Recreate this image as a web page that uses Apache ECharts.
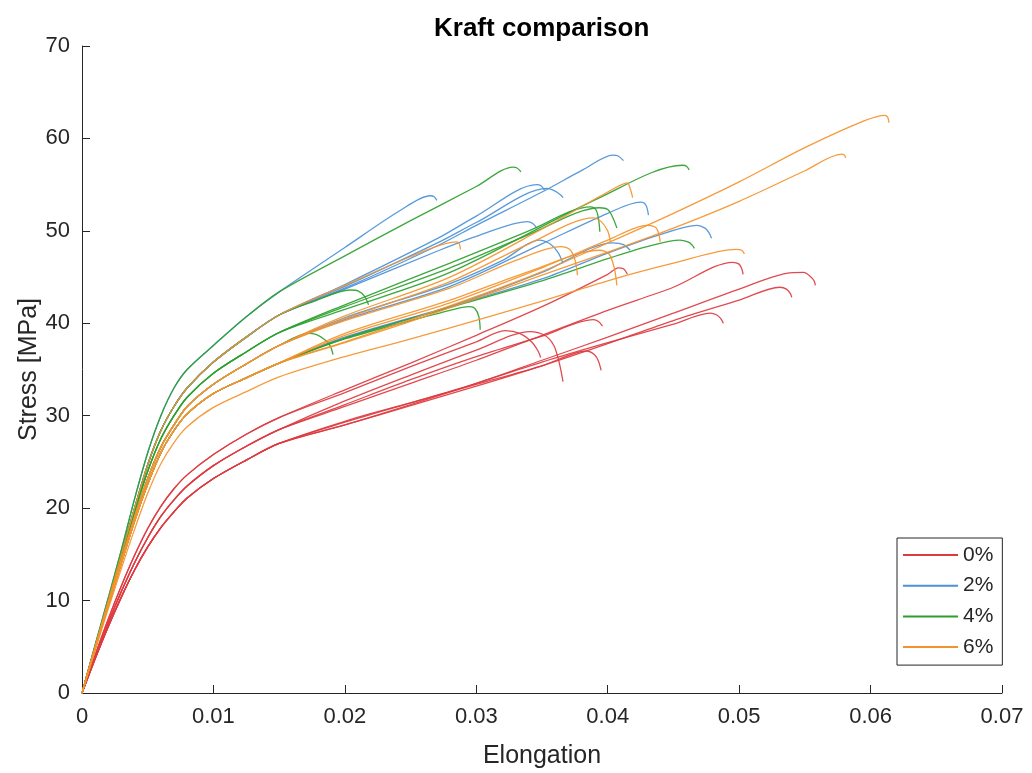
<!DOCTYPE html>
<html>
<head>
<meta charset="utf-8">
<title>Kraft comparison</title>
<script src="https://cdn.jsdelivr.net/npm/echarts@6/dist/echarts.min.js"></script>
<style>
  html, body { margin: 0; padding: 0; background: #fff; }
  #chart { width: 1032px; height: 773px; }
</style>
</head>
<body>
<div id="chart"></div>
<script>
// strain points of the initial (knee) part, shared by all curves
const kneeStrain = [0, 0.001, 0.002, 0.003, 0.004, 0.005, 0.006, 0.007, 0.008, 0.01, 0.0125, 0.015];

// knee stress, one row per bundle of curves
const kneeRedHigh = [0, 4.1, 8, 11.6, 14.9, 17.8, 20.2, 22.1, 23.6, 25.8, 28, 29.8];
const kneeRedMid = [0, 3.9, 7.6, 11, 14.1, 16.8, 19.1, 20.9, 22.4, 24.6, 26.7, 28.5];
const kneeRedLow = [0, 3.7, 7.2, 10.4, 13.3, 15.8, 17.9, 19.6, 21.1, 23.2, 25.2, 27];
const kneeTop = [0, 5.2, 10.3, 15.5, 21, 26, 30, 33, 35, 37.6, 40.7, 43.4];
const kneeUpper = [0, 5, 10, 15, 20, 24.7, 28.4, 31, 33, 35.8, 38.5, 40.9];
const kneeGreen = [0, 5, 9.9, 14.8, 19.6, 24, 27.5, 30, 32, 34.6, 36.9, 39];
const kneeOrange = [0, 4.9, 9.7, 14.4, 19, 23.2, 26.6, 29, 31, 33.4, 35.6, 37.6];
const kneeLower = [0, 4.8, 9.5, 14.1, 18.6, 22.6, 26, 28.4, 30.2, 32.4, 34.1, 35.7];
const kneeLowest = [0, 4.6, 9.1, 13.5, 17.7, 21.6, 24.8, 27.1, 28.8, 30.9, 32.6, 34.2];

// 0 % : tails [strain, stress] after the knee, up to failure
const red = [
  [kneeRedHigh, [[0.02,32.5],[0.025,35.3],[0.03,38],[0.0322,39.2],[0.0333,38.9],[0.0342,38],[0.0347,37],[0.0349,36.3]]],
  [kneeRedMid, [[0.02,31.6],[0.025,34.4],[0.03,37.1],[0.0341,39.1],[0.0352,38.7],[0.0359,37.6],[0.0363,35.8],[0.0366,33.7]]],
  [kneeRedLow, [[0.02,29.4],[0.025,31.4],[0.03,33.4],[0.035,35.4],[0.0384,37],[0.039,36.6],[0.0393,35.9],[0.0395,34.9]]],
  [kneeRedMid, [[0.02,31.2],[0.025,33.9],[0.03,36.4],[0.035,38.6],[0.0389,40.4],[0.0393,40.2],[0.0396,39.7]]],
  [kneeRedHigh, [[0.02,32.8],[0.025,35.7],[0.03,38.7],[0.035,41.8],[0.04,45.3],[0.0408,46],[0.0412,45.9],[0.0415,45.3]]],
  [kneeRedMid, [[0.02,31],[0.025,33.5],[0.03,36],[0.035,38.7],[0.04,41.4],[0.045,43.9],[0.0495,46.6],[0.05,46.4],[0.0502,45.9],[0.0503,45.3]]],
  [kneeRedLow, [[0.02,29.3],[0.025,31.4],[0.03,33.5],[0.035,36],[0.04,38.5],[0.045,41.1],[0.05,43.7],[0.0536,45.4],[0.0549,45.5],[0.0554,45.1],[0.0557,44.6],[0.0558,44.1]]],
  [kneeRedLow, [[0.02,29],[0.025,31.1],[0.03,33.2],[0.035,35.4],[0.04,37.8],[0.045,40.3],[0.05,42.5],[0.0531,43.9],[0.0536,43.7],[0.0539,43.2],[0.054,42.8]]],
  [kneeRedLow, [[0.02,29],[0.025,31.2],[0.03,33.5],[0.035,35.8],[0.04,37.9],[0.045,39.9],[0.0478,41.1],[0.0483,40.9],[0.0486,40.5],[0.0488,40]]]
];

// 2 %
const blue = [
  [kneeTop, [[0.02,48.2],[0.0242,52.2],[0.0265,53.8],[0.0268,53.7],[0.027,53.3]]],
  [kneeUpper, [[0.02,44.2],[0.0272,49.3],[0.03,51.6],[0.0346,55],[0.0349,54.9],[0.0352,54.4]]],
  [kneeUpper, [[0.02,44],[0.0272,48.8],[0.03,50.9],[0.0354,54.6],[0.036,54.3],[0.0364,53.9],[0.0366,53.6]]],
  [kneeUpper, [[0.02,43.7],[0.0272,47.9],[0.03,49.4],[0.0339,51],[0.0343,50.8],[0.0346,50.3]]],
  [kneeOrange, [[0.02,40.6],[0.028,44.3],[0.032,46.8],[0.0348,49],[0.0356,48.6],[0.0362,47.7],[0.0366,46.5]]],
  [kneeUpper, [[0.02,43.8],[0.0272,48.5],[0.03,50.6],[0.035,54.2],[0.0381,56.6],[0.0404,58.2],[0.0408,58.1],[0.0412,57.6]]],
  [kneeOrange, [[0.02,40.4],[0.028,44],[0.035,48.6],[0.04,51.9],[0.0425,53.1],[0.0429,52.8],[0.0431,51.7]]],
  [kneeLower, [[0.02,38.5],[0.028,41.8],[0.035,44.8],[0.04,47.6],[0.044,49.6],[0.0468,50.6],[0.0474,50.3],[0.0477,49.8],[0.0479,49.2]]],
  [kneeLower, [[0.02,38.4],[0.028,41.8],[0.035,45.5],[0.0404,48.7],[0.0412,48.5],[0.0417,47.9]]]
];

// 4 %
const green = [
  [kneeTop, [[0.02,47.3],[0.025,51.1],[0.03,54.8],[0.0328,56.9],[0.0331,56.8],[0.0334,56.4]]],
  [kneeGreen, [[0.02,41.5],[0.028,45.5],[0.0394,53.6],[0.0457,57.1],[0.046,57],[0.0462,56.6]]],
  [kneeGreen, [[0.02,42],[0.028,46.5],[0.034,50],[0.0387,52.6],[0.0391,52.3],[0.0393,51.3],[0.0394,49.9]]],
  [kneeGreen, [[0.02,41.8],[0.028,46],[0.034,49.6],[0.0394,52.5],[0.04,52.3],[0.0404,51.4],[0.0407,50.3]]],
  [kneeLower, [[0.02,38.3],[0.025,40.3],[0.0272,41.1],[0.0295,41.8],[0.0299,41.6],[0.0302,40.7],[0.0303,39.3]]],
  [kneeLower, [[0.02,38.4],[0.0272,41.4],[0.035,44.6],[0.04,47],[0.043,48.3],[0.0455,49],[0.0461,48.8],[0.0464,48.5],[0.0466,48.1]]],
  [kneeUpper, [[0.0175,42.3],[0.0204,43.6],[0.021,43.5],[0.0215,42.9],[0.0218,42]]],
  [kneeOrange, [[0.0172,38.9],[0.0178,38.8],[0.0185,38.2],[0.0189,37.5],[0.0191,36.6]]]
];

// 6 %
const orange = [
  [kneeLower, [[0.02,38],[0.025,40.4],[0.03,42.9],[0.035,45.6],[0.04,48.7],[0.045,51.9],[0.05,55.3],[0.055,59],[0.0595,61.9],[0.0611,62.5],[0.0613,62.3],[0.0614,61.7]]],
  [kneeLower, [[0.02,37.9],[0.025,40.2],[0.03,42.7],[0.035,45.2],[0.04,47.7],[0.045,50.3],[0.05,53.2],[0.055,56.5],[0.0578,58.3],[0.058,58.2],[0.0581,57.9]]],
  [kneeOrange, [[0.02,40.8],[0.028,45],[0.035,50.2],[0.04,54.2],[0.0415,55.2],[0.0417,54.6],[0.0419,53.6]]],
  [kneeUpper, [[0.02,44.1],[0.025,47.2],[0.0285,48.8],[0.0287,48.6],[0.0288,48]]],
  [kneeOrange, [[0.02,40.3],[0.028,43.8],[0.033,46.8],[0.0364,48.3],[0.0371,48],[0.0375,46.9],[0.0377,45.2]]],
  [kneeOrange, [[0.02,40.5],[0.028,44.5],[0.034,48.6],[0.0389,51.4],[0.0395,51],[0.04,50],[0.0402,48.8]]],
  [kneeLower, [[0.02,38.9],[0.028,42.5],[0.034,45.6],[0.0394,47.9],[0.0401,47.5],[0.0405,46],[0.0407,44.1]]],
  [kneeLower, [[0.02,38.7],[0.028,42.2],[0.035,46],[0.04,49],[0.043,50.6],[0.0437,50.3],[0.044,48.8]]],
  [kneeLowest, [[0.02,36.4],[0.0242,38],[0.028,39.5],[0.035,42.4],[0.04,44.6],[0.045,46.5],[0.0498,48],[0.0502,47.9],[0.0504,47.5]]]
];

const groups = [
  { name: '0%', color: '#dd3b40', curves: red },
  { name: '2%', color: '#4a91d8', curves: blue },
  { name: '4%', color: '#2d9f2d', curves: green },
  { name: '6%', color: '#f5922b', curves: orange }
];

const xTicks = [0, 0.01, 0.02, 0.03, 0.04, 0.05, 0.06, 0.07];
const FONT = '"Liberation Sans", Arial, Helvetica, sans-serif';
const INK = '#262626';

const series = [];
groups.forEach(g => {
  g.curves.forEach(([knee, tail]) => {
    series.push({
      name: g.name,
      type: 'line',
      data: kneeStrain.map((x, i) => [x, knee[i]]).concat(tail),
      symbol: 'none',
      showSymbol: false,
      smooth: 0.3,
      color: g.color,
      lineStyle: { color: g.color, width: 1.3, opacity: 0.92 },
      emphasis: { disabled: true }
    });
  });
});

const chart = echarts.init(document.getElementById('chart'));
chart.setOption({
  animation: false,
  backgroundColor: '#fff',
  title: {
    text: 'Kraft comparison',
    left: 434,
    top: 16,
    padding: 0,
    textStyle: { fontFamily: FONT, fontSize: 26, fontWeight: 'bold', color: '#000' }
  },
  legend: {
    data: groups.map(g => g.name),
    orient: 'vertical',
    left: 897,
    top: 538,
    icon: 'rect',
    itemWidth: 55,
    itemHeight: 2,
    itemGap: 9.7,
    padding: [6.5, 9, 7.5, 6],
    borderColor: INK,
    borderWidth: 1,
    borderRadius: 0,
    backgroundColor: '#fff',
    selectedMode: false,
    textStyle: { fontFamily: FONT, fontSize: 21, lineHeight: 21, color: INK }
  },
  // fixed plot box; keep v6 from shrinking it to fit the axis names
  grid: { left: 82, right: 30, top: 46, bottom: 80, containLabel: false, outerBoundsMode: 'none' },
  xAxis: {
    type: 'value',
    min: 0,
    max: 0.07,
    interval: 0.01,
    name: 'Elongation',
    nameLocation: 'middle',
    nameGap: 51,
    nameMoveOverlap: false,
    nameTextStyle: { fontFamily: FONT, fontSize: 25, color: INK },
    axisLine: { show: true, lineStyle: { color: INK, width: 1 } },
    axisTick: { show: true, inside: true, length: 8, lineStyle: { color: INK } },
    axisLabel: {
      fontFamily: FONT, fontSize: 22, color: INK, margin: 13,
      formatter: v => {
        const t = xTicks.find(k => Math.abs(k - v) < 1e-9);
        return t === 0 ? '0' : (t !== undefined ? t.toFixed(2) : '');
      }
    },
    splitLine: { show: false }
  },
  yAxis: {
    type: 'value',
    min: 0,
    max: 70,
    interval: 10,
    name: 'Stress [MPa]',
    nameLocation: 'middle',
    nameGap: 40,
    nameMoveOverlap: false,
    nameRotate: 90,
    nameTextStyle: { fontFamily: FONT, fontSize: 25, color: INK },
    axisLine: { show: true, lineStyle: { color: INK, width: 1 } },
    axisTick: { show: true, inside: true, length: 8, lineStyle: { color: INK } },
    axisLabel: { fontFamily: FONT, fontSize: 22, color: INK, margin: 12 },
    splitLine: { show: false }
  },
  series: series
});
</script>
</body>
</html>
